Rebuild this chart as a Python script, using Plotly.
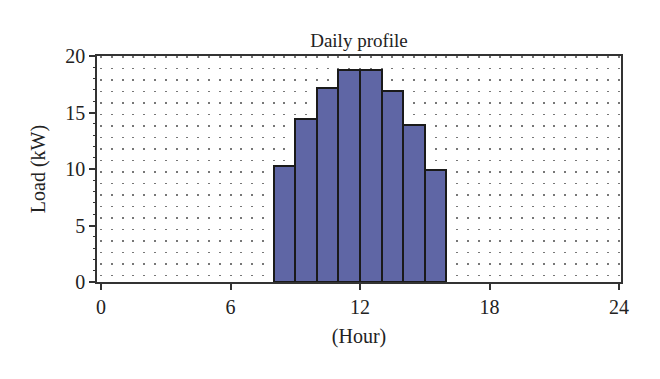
import plotly.graph_objects as go

hours = [8.5, 9.5, 10.5, 11.5, 12.5, 13.5, 14.5, 15.5]
load_kw = [10.3, 14.4, 17.2, 18.75, 18.75, 16.9, 13.9, 9.9]
x_ticks = [0, 6, 12, 18, 24]
y_ticks = [0, 5, 10, 15, 20]

font_family = "Liberation Serif, DejaVu Serif, serif"

fig = go.Figure()
fig.add_trace(go.Bar(
    x=hours, y=load_kw, width=1.0,
    marker=dict(color="rgb(95,102,165)", line=dict(color="#1a1a1a", width=2)),
))

# page body has an 8px offset; margins compensate so the plot area lands at x 97-621, y 56-282
fig.update_layout(
    width=660, height=379,
    margin=dict(l=89, r=47, t=48, b=105, autoexpand=False),
    paper_bgcolor="white", plot_bgcolor="white",
    showlegend=False,
    font=dict(family=font_family, size=20, color="#222"),
    title=dict(text="Daily profile", x=(359 - 8) / 660, xanchor="center",
               y=1 - (40 - 8) / 379, yanchor="middle",
               font=dict(family=font_family, size=19, color="#222")),
    bargap=0,
)
fig.update_xaxes(
    range=[-0.185, 24.09], tickvals=x_ticks, ticktext=[str(v) for v in x_ticks],
    showline=True, linecolor="#333", linewidth=1.5, mirror=True,
    ticks="outside", ticklen=6, tickcolor="#333", tickwidth=1.5,
    showgrid=False, zeroline=False,
    minor=dict(dtick=0.5, tick0=0, showgrid=True, gridcolor="#777", gridwidth=1.5,
               griddash="1.5px,10px", ticks=""),
    title=dict(text="(Hour)", standoff=12, font=dict(size=20)),
)
fig.update_yaxes(
    range=[0, 20], tickvals=y_ticks, ticktext=[str(v) for v in y_ticks],
    showline=True, linecolor="#333", linewidth=1.5, mirror=True,
    ticks="outside", ticklen=6, tickcolor="#333", tickwidth=1.5,
    showgrid=False, zeroline=False,
    minor=dict(dtick=1, ticks="outside", ticklen=2, tickcolor="#333", tickwidth=1, showgrid=False),
    title=dict(text="Load (kW)", standoff=14, font=dict(size=20)),
)

fig.write_html("out.html")
